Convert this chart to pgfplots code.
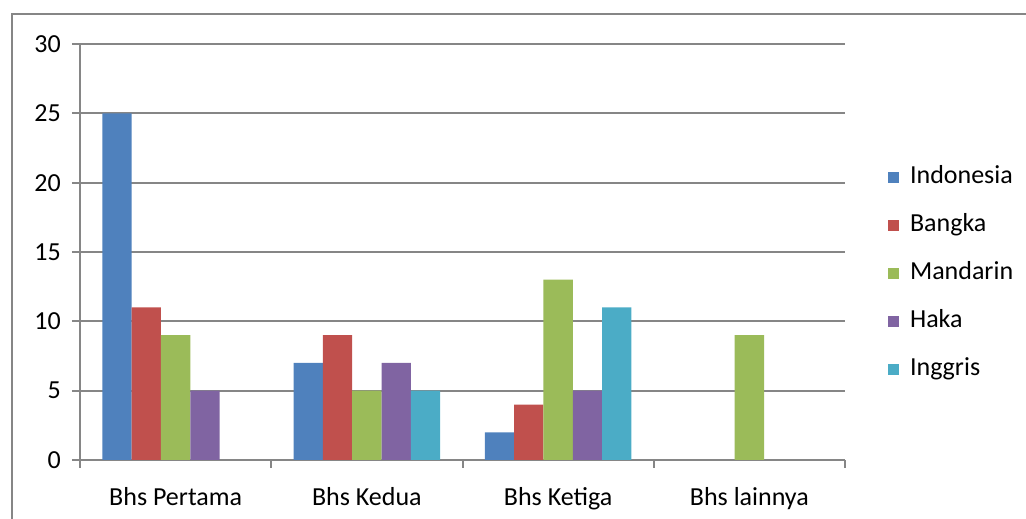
\documentclass[border=0pt]{standalone}
\usepackage{pgfplots}
\pgfplotsset{compat=1.18}
\usepackage{fontspec}
\setmainfont{Carlito}

\definecolor{xlblue}{HTML}{4F81BD}
\definecolor{xlred}{HTML}{C0504D}
\definecolor{xlgreen}{HTML}{9BBB59}
\definecolor{xlpurple}{HTML}{8064A2}
\definecolor{xlaqua}{HTML}{4BACC6}
\definecolor{linegray}{HTML}{868686}

\begin{document}
\fontsize{26bp}{31bp}\selectfont
\begin{tikzpicture}[x=1bp,y=1bp]
\useasboundingbox (0,0) rectangle (1026,519);
% outer chart frame (cut at right and bottom)
\draw[line width=2bp, color=linegray] (12,-2) -- (12,505) -- (1028,505);

\begin{axis}[
    at={(80bp,59bp)}, anchor=south west,
    scale only axis,
    width=765bp, height=416bp,
    ybar=0pt, bar width=29.3bp,
    xmin=-0.5, xmax=3.5,
    ymin=0, ymax=30,
    ytick={0,5,10,15,20,25,30},
    xtick={0,1,2,3},
    xticklabels={Bhs Pertama, Bhs Kedua, Bhs Ketiga, Bhs lainnya},
    minor xtick={-0.5,0.5,1.5,2.5,3.5},
    major x tick style={draw=none},
    tick align=outside,
    major tick length=8bp, minor tick length=8bp,
    tick style={line width=2bp, color=linegray},
    axis x line*=bottom, axis y line*=left,
    axis line style={line width=2bp, color=linegray, -},
    ymajorgrids=true,
    grid style={line width=2bp, color=linegray},
    /pgf/number format/assume math mode=true,
    yticklabel style={anchor=east, inner sep=0pt, xshift=-11bp},
    xticklabel style={anchor=north, inner sep=0pt, yshift=-19bp},
    legend style={at={(1.056,0.448)}, anchor=west, draw=none, fill=none,
        inner sep=0pt, row sep=24bp, column sep=11bp,
        nodes={inner sep=0pt, text height=18bp, text depth=6bp, anchor=west}},
    legend cell align=left,
    legend image code/.code={\fill (0bp,-5.5bp) rectangle (11bp,5.5bp);},
]
\addplot[fill=xlblue, draw=none] coordinates {(0,25) (1,7) (2,2)};
\addplot[fill=xlred, draw=none] coordinates {(0,11) (1,9) (2,4)};
\addplot[fill=xlgreen, draw=none] coordinates {(0,9) (1,5) (2,13) (3,9)};
\addplot[fill=xlpurple, draw=none] coordinates {(0,5) (1,7) (2,5)};
\addplot[fill=xlaqua, draw=none] coordinates {(1,5) (2,11)};
\legend{Indonesia, Bangka, Mandarin, Haka, Inggris}
\end{axis}
\end{tikzpicture}
\end{document}
